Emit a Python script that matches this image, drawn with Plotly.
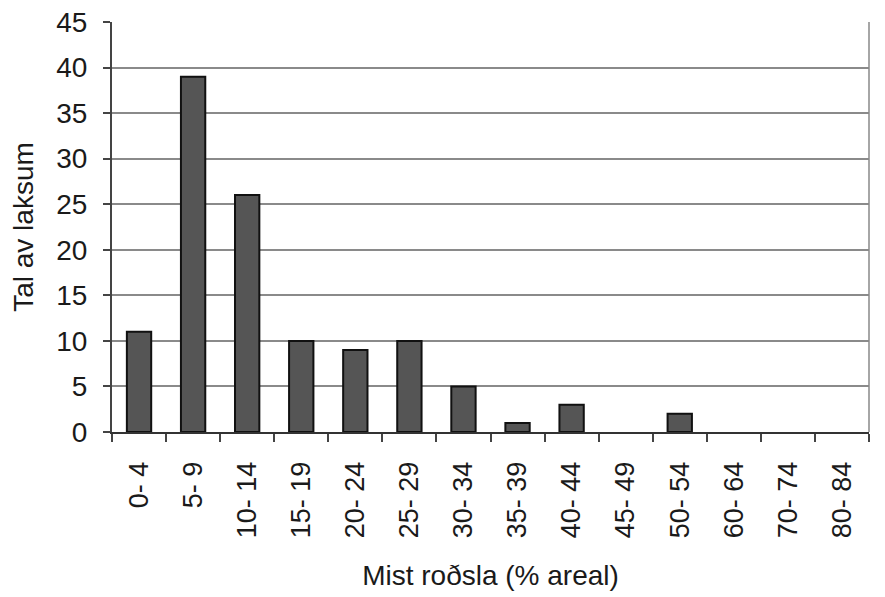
import plotly.graph_objects as go

categories = ["0- 4", "5- 9", "10- 14", "15- 19", "20- 24", "25- 29", "30- 34",
              "35- 39", "40- 44", "45- 49", "50- 54", "60- 64", "70- 74", "80- 84"]
counts = [11, 39, 26, 10, 9, 10, 5, 1, 3, 0, 2, 0, 0, 0]
y_ticks = [0, 5, 10, 15, 20, 25, 30, 35, 40, 45]

font = "Liberation Sans, Arial, sans-serif"

fig = go.Figure(go.Bar(
    x=categories, y=counts,
    marker=dict(color="#555555",
                line=dict(color="#111111", width=[2 if c > 0 else 0 for c in counts])),
    width=0.45,
))

# the page body has an 8px default margin, so the figure is 8px smaller
fig.update_layout(
    width=877, height=589,
    margin=dict(l=104, r=16, t=14, b=165, autoexpand=False),
    paper_bgcolor="white", plot_bgcolor="white",
    showlegend=False,
    font=dict(family=font, color="#1a1a1a"),
)

fig.update_xaxes(
    type="category",
    tickangle=-90,
    tickfont=dict(size=27, family=font),
    ticks="outside", ticklen=8, tickcolor="#444", tickwidth=2,
    tickson="boundaries",
    ticklabelstandoff=17,
    showline=True, linecolor="#333", linewidth=2,
    automargin=False,
    title=dict(text="Mist roðsla (% areal)", font=dict(size=28, family=font), standoff=28),
    showgrid=False,
)
fig.update_yaxes(
    range=[0, 45],
    tickvals=y_ticks,
    tickfont=dict(size=28, family=font),
    ticks="outside", ticklen=7, tickcolor="#444", tickwidth=2,
    ticklabelstandoff=10,
    ticklabeloverflow="allow",
    showline=True, linecolor="#444", linewidth=2,
    showgrid=True, gridcolor="#8a8a8a", gridwidth=1.5,
    zeroline=False,
    automargin=False,
    title=dict(text="Tal av laksum", font=dict(size=28, family=font), standoff=16),
)

# right border of the plot area
fig.add_shape(type="line", xref="paper", yref="paper", x0=1, x1=1, y0=0, y1=1,
              line=dict(color="#888", width=1.5))

fig.write_html("out.html")
